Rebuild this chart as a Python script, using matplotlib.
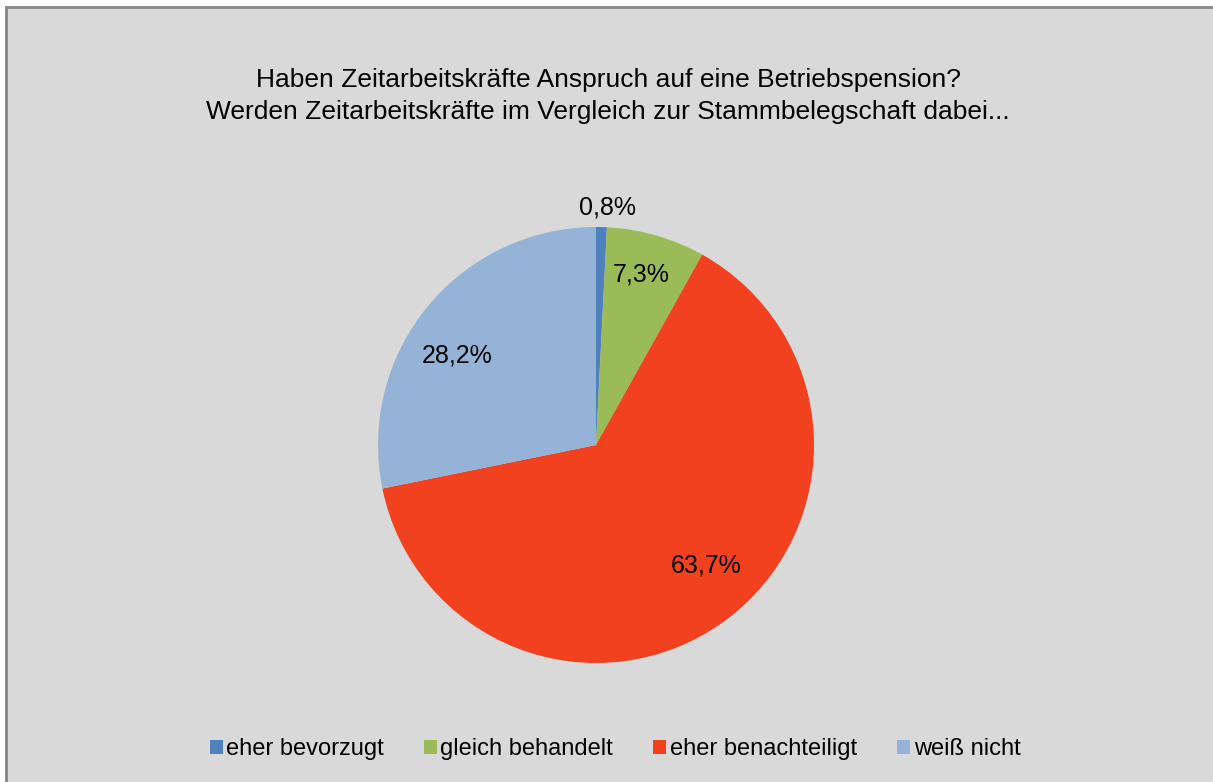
import numpy as np
import matplotlib
matplotlib.use("Agg")
import matplotlib.pyplot as plt
from matplotlib.patches import Rectangle

plt.rcParams['font.family'] = ['Liberation Sans', 'DejaVu Sans']

categories = ['eher bevorzugt', 'gleich behandelt', 'eher benachteiligt', 'weiß nicht']
values = [0.8, 7.3, 63.7, 28.2]
colors = ['#4F81BD', '#9BBB59', '#F2411F', '#95B3D7']

# label placement: distance from centre (radius units) and angle shift (deg)
label_dist = [1.10, 0.82, 0.74, 0.765]
label_shift = [-1.2, 1.4, 6.7, 5.9]

W, H = 1213, 782
fig = plt.figure(figsize=(W / 100, H / 100), dpi=100)
fig.patch.set_facecolor('white')

# chart area frame (cut off at right/bottom like the screenshot)
fig.patches.append(Rectangle((6 / W, -0.05), 1.1, 1 - 7 / H + 0.05,
                             transform=fig.transFigure, facecolor='#D9D9D9',
                             edgecolor='#868686', linewidth=2, zorder=-5))

cx, cy, r = 596, 445, 218
ax = fig.add_axes([(cx - r) / W, (H - cy - r) / H, 2 * r / W, 2 * r / H])
ax.set_zorder(2)
wedges, _ = ax.pie(values, colors=colors, startangle=90, counterclock=False,
                   radius=1, wedgeprops=dict(linewidth=0))
ax.set_xlim(-1, 1)
ax.set_ylim(-1, 1)
ax.set_aspect('auto')
ax.axis('off')

for w, v, d, s in zip(wedges, values, label_dist, label_shift):
    ang = np.deg2rad((w.theta1 + w.theta2) / 2 + s)
    ax.text(d * np.cos(ang), d * np.sin(ang), f"{v:.1f}%".replace('.', ','),
            ha='center', va='center_baseline', fontsize=18, color='black', clip_on=False)

fig.text(608 / W, 1 - 80 / H, 'Haben Zeitarbeitskräfte Anspruch auf eine Betriebspension?',
         ha='center', va='center', fontsize=19)
fig.text(608 / W, 1 - 112 / H, 'Werden Zeitarbeitskräfte im Vergleich zur Stammbelegschaft dabei...',
         ha='center', va='center', fontsize=19)

fig.legend(wedges, categories, loc='center', bbox_to_anchor=(615 / W, 1 - 749 / H),
           ncol=4, frameon=False, fontsize=17, handlelength=0.55, handleheight=0.55,
           handletextpad=0.15, columnspacing=1.7)

fig.savefig('out.png', dpi=100, facecolor=fig.get_facecolor())
